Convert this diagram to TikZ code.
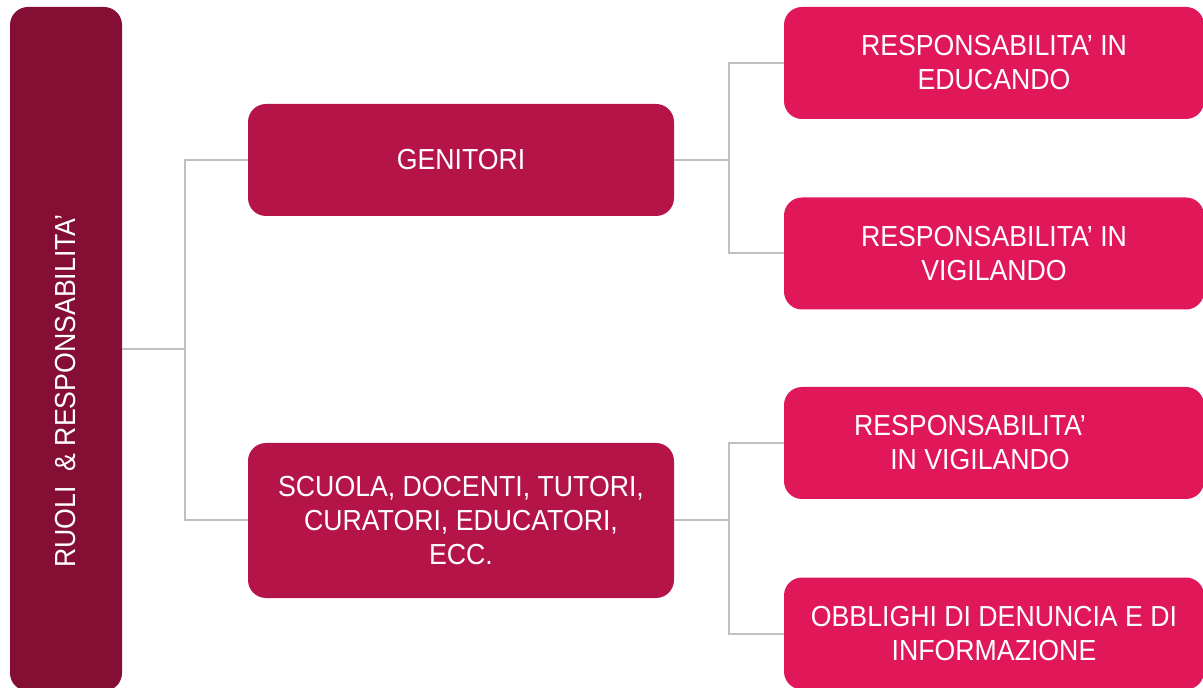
\documentclass[tikz,border=0pt]{standalone}
\usepackage{fontspec}
\setmainfont{Liberation Sans}[FakeStretch=0.92]
\usepackage{tikz}
\usetikzlibrary{positioning}
\definecolor{rootcol}{HTML}{850F34}
\definecolor{midcol}{HTML}{B41447}
\definecolor{leafcol}{HTML}{E0185A}
\definecolor{linkcol}{HTML}{C0C0C0}
\tikzset{box/.style={rounded corners=9pt,text=white,align=center,
		font=\fontsize{14.5}{17}\selectfont,inner sep=0pt},
	rootbox/.style={box,fill=rootcol,minimum width=56pt,minimum height=342pt},
	midbox/.style={box,fill=midcol,minimum width=213pt},
	leafbox/.style={box,fill=leafcol,minimum width=210pt,minimum height=56pt},
	link/.style={draw=linkcol,line width=1pt}}
\begin{document}
\begin{tikzpicture}[x=0.5pt,y=-0.5pt]
		\useasboundingbox (0,0) rectangle (1203,688);
		\begin{scope}
			\node[rootbox] (root) at (66,349) {\rotatebox{90}{RUOLI\ \ \& RESPONSABILITA’\hspace{42pt}}};
			\node[midbox,minimum height=56pt] (gen) at (461,160) {GENITORI};
			\node[midbox,minimum height=77.5pt] (scu) at (461,520.5) {SCUOLA, DOCENTI, TUTORI,\\CURATORI, EDUCATORI,\\ECC.};
			\node[leafbox] (educ) at (994,63) {RESPONSABILITA’ IN\\EDUCANDO};
			\node[leafbox] (vigA) at (994,253.5) {RESPONSABILITA’ IN\\VIGILANDO};
			\node[leafbox] (vigB) at (994,443) {RESPONSABILITA’\hspace*{24pt}\\IN VIGILANDO\hspace*{14pt}};
			\node[leafbox] (obbl) at (994,633.5) {OBBLIGHI DI DENUNCIA E DI\\INFORMAZIONE};
		\end{scope}
		\coordinate (jroot) at (185,349);
		\coordinate (jgen) at (729,160);
		\coordinate (jscu) at (729,520.5);
		\begin{scope}[every path/.style={link}]
			\draw (root.east) -- (jroot);
			\draw (gen.west) -| (jroot) |- (scu.west);
			\draw (gen.east) -- (jgen);
			\draw (educ.west) -| (jgen) |- (vigA.west);
			\draw (scu.east) -- (jscu);
			\draw (vigB.west) -| (jscu) |- (obbl.west);
		\end{scope}
	\end{tikzpicture}
\end{document}
